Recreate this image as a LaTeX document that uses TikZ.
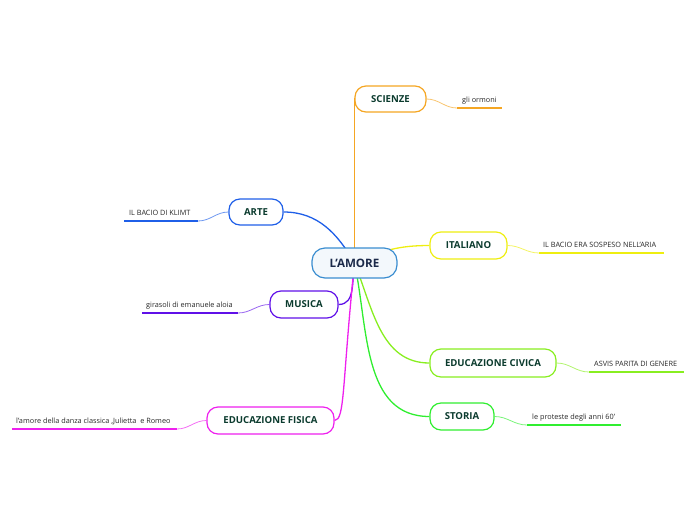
\documentclass[tikz,border=0pt]{standalone}
\usepackage{fontspec}
\setmainfont{Open Sans}
\usetikzlibrary{backgrounds}
\definecolor{cOr}{HTML}{F5A623}
\definecolor{cBl}{HTML}{1F5FE8}
\definecolor{cYe}{HTML}{EEEE10}
\definecolor{cPu}{HTML}{6010E8}
\definecolor{cLi}{HTML}{88EE20}
\definecolor{cGr}{HTML}{30EE30}
\definecolor{cMa}{HTML}{EE20EE}
\definecolor{cCe}{HTML}{3A8DD0}
\definecolor{tNode}{HTML}{0B3B2E}
\definecolor{tCen}{HTML}{1B2A4A}
\tikzset{
  topic/.style={draw=#1, line width=1.2pt, fill=white, rounded corners=11pt,
    font=\fontsize{9.6}{11}\selectfont\bfseries, text=tNode, inner sep=0pt},
  central/.style={draw=cCe, line width=1.2pt, fill=cCe!6, rounded corners=13pt,
    font=\fontsize{11.6}{13}\selectfont\bfseries, text=tCen, inner sep=0pt,
    minimum width=85pt, minimum height=30pt},
  leaf/.style={font=\fontsize{7.3}{8}\selectfont, text=black!85, inner sep=0pt},
  conn/.style={draw=#1, line width=1.3pt},
  lconn/.style={draw=#1!65, line width=0.8pt},
  under/.style={draw=#1, line width=1.8pt},
}
\begin{document}
\begin{tikzpicture}[x=1pt,y=-1pt]
\useasboundingbox (0,0) rectangle (696,520);
% topics
\node[central] (amore) at (354.5,263) {L'AMORE};
\node[topic=cOr, minimum width=71pt, minimum height=26pt] (sci) at (390.5,99) {SCIENZE};
\node[topic=cBl, minimum width=54pt, minimum height=26pt] (arte) at (256,212) {ARTE};
\node[topic=cYe, minimum width=77pt, minimum height=27pt] (ital) at (468.5,245.5) {ITALIANO};
\node[topic=cPu, minimum width=68pt, minimum height=27pt] (mus) at (304,304.5) {MUSICA};
\node[topic=cLi, minimum width=126pt, minimum height=28pt] (civ) at (493,363) {EDUCAZIONE CIVICA};
\node[topic=cGr, minimum width=64pt, minimum height=27pt] (sto) at (462,416.5) {STORIA};
\node[topic=cMa, minimum width=127pt, minimum height=27pt] (fis) at (270.5,420.5) {EDUCAZIONE FISICA};
% leaves
\node[leaf, anchor=base west] (l1) at (462,102) {gli ormoni};
\coordinate (l1a) at (457,108); \coordinate (l1b) at (502,108);
\node[leaf, anchor=base west] (l2) at (129,215) {IL BACIO DI KLIMT};
\coordinate (l2a) at (198,221); \coordinate (l2b) at (124,221);
\node[leaf, anchor=base west] (l3) at (543,247) {IL BACIO ERA SOSPESO NELL'ARIA};
\coordinate (l3a) at (539,253); \coordinate (l3b) at (664,253);
\node[leaf, anchor=base west] (l4) at (146,307) {girasoli di emanuele aloia};
\coordinate (l4a) at (238,313); \coordinate (l4b) at (142,313);
\node[leaf, anchor=base west] (l5) at (594,366) {ASVIS PARITA DI GENERE};
\coordinate (l5a) at (589,372); \coordinate (l5b) at (684,372);
\node[leaf, anchor=base west] (l6) at (532,419) {le proteste degli anni 60'};
\coordinate (l6a) at (527,425); \coordinate (l6b) at (621,425);
\node[leaf, anchor=base west] (l7) at (16,423) {l'amore della danza classica ,Julietta\ \ e Romeo};
\coordinate (l7a) at (177,429); \coordinate (l7b) at (12,429);
\begin{scope}[on background layer]
\draw[conn=cOr] (amore.center) -- (amore.center |- sci.west) to[out=90,in=180] (sci.west);
\draw[conn=cBl] (amore.center) to[out=120,in=0] (arte.east);
\draw[conn=cYe] (amore.center) to[out=25,in=180] (ital.west);
\draw[conn=cPu] (amore.center) to[out=-100,in=0] (mus.east);
\draw[conn=cLi] (amore.center) to[out=-68,in=180] (civ.west);
\draw[conn=cGr] (amore.center) to[out=-78,in=180] (sto.west);
\draw[conn=cMa] (amore.center) .. controls (342,385) and (345,420) .. (fis.east);
% leaf connectors
\draw[lconn=cOr] (sci.east) to[out=0,in=180] (l1a);
\draw[under=cOr] (l1a) -- (l1b);
\draw[lconn=cBl] (arte.west) to[out=180,in=0] (l2a);
\draw[under=cBl] (l2a) -- (l2b);
\draw[lconn=cYe] (ital.east) to[out=0,in=180] (l3a);
\draw[under=cYe] (l3a) -- (l3b);
\draw[lconn=cPu] (mus.west) to[out=180,in=0] (l4a);
\draw[under=cPu] (l4a) -- (l4b);
\draw[lconn=cLi] (civ.east) to[out=0,in=180] (l5a);
\draw[under=cLi] (l5a) -- (l5b);
\draw[lconn=cGr] (sto.east) to[out=0,in=180] (l6a);
\draw[under=cGr] (l6a) -- (l6b);
\draw[lconn=cMa] (fis.west) to[out=180,in=0] (l7a);
\draw[under=cMa] (l7a) -- (l7b);
\end{scope}
\end{tikzpicture}
\end{document}
